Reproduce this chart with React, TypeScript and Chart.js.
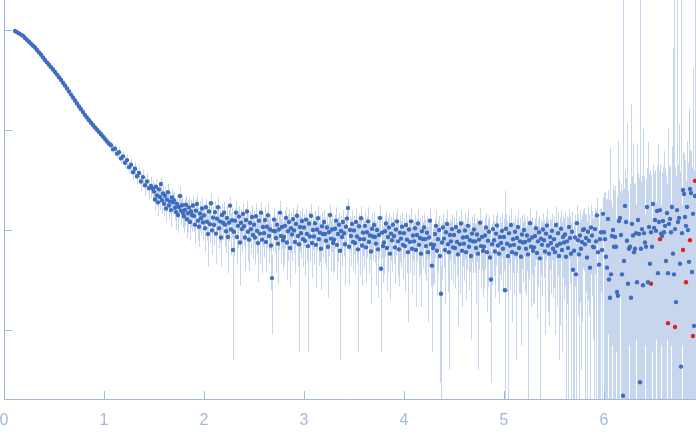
import React, { useEffect, useRef } from "react";
import { Chart, registerables } from "chart.js";

Chart.register(...registerables);

// scattering vector q (x axis)
const qValues = [
  0.11, 0.13, 0.15, 0.17, 0.19, 0.21, 0.23, 0.25, 0.27, 0.29,
  0.31, 0.33, 0.35, 0.37, 0.39, 0.41, 0.43, 0.45, 0.47, 0.49,
  0.51, 0.53, 0.55, 0.57, 0.59, 0.61, 0.63, 0.65, 0.67, 0.69,
  0.71, 0.73, 0.75, 0.77, 0.79, 0.81, 0.83, 0.85, 0.87, 0.89,
  0.91, 0.93, 0.95, 0.97, 0.99, 1.01, 1.03, 1.05, 1.07, 1.09,
  1.11, 1.13, 1.15, 1.17, 1.19, 1.21, 1.23, 1.25, 1.27, 1.29,
  1.31, 1.33, 1.35, 1.37, 1.39, 1.41, 1.43, 1.45, 1.47, 1.49,
  1.50, 1.51, 1.52, 1.53, 1.54, 1.55, 1.56, 1.57, 1.58, 1.59,
  1.60, 1.61, 1.62, 1.63, 1.64, 1.65, 1.66, 1.67, 1.68, 1.69,
  1.70, 1.71, 1.72, 1.73, 1.74, 1.75, 1.76, 1.77, 1.78, 1.79,
  1.80, 1.81, 1.82, 1.83, 1.84, 1.85, 1.86, 1.87, 1.88, 1.89,
  1.90, 1.91, 1.92, 1.93, 1.94, 1.95, 1.96, 1.97, 1.98, 1.99,
  2.00, 2.01, 2.02, 2.03, 2.04, 2.05, 2.06, 2.07, 2.08, 2.09,
  2.10, 2.11, 2.12, 2.13, 2.14, 2.15, 2.16, 2.17, 2.18, 2.19,
  2.20, 2.21, 2.22, 2.23, 2.24, 2.25, 2.26, 2.27, 2.28, 2.29,
  2.30, 2.31, 2.32, 2.33, 2.34, 2.35, 2.36, 2.37, 2.38, 2.39,
  2.40, 2.41, 2.42, 2.43, 2.44, 2.45, 2.46, 2.47, 2.48, 2.49,
  2.50, 2.51, 2.52, 2.53, 2.54, 2.55, 2.56, 2.57, 2.58, 2.59,
  2.60, 2.61, 2.62, 2.63, 2.64, 2.65, 2.66, 2.67, 2.68, 2.69,
  2.70, 2.71, 2.72, 2.73, 2.74, 2.75, 2.76, 2.77, 2.78, 2.79,
  2.80, 2.81, 2.82, 2.83, 2.84, 2.85, 2.86, 2.87, 2.88, 2.89,
  2.90, 2.91, 2.92, 2.93, 2.94, 2.95, 2.96, 2.97, 2.98, 2.99,
  3.00, 3.01, 3.02, 3.03, 3.04, 3.05, 3.06, 3.07, 3.08, 3.09,
  3.10, 3.11, 3.12, 3.13, 3.14, 3.15, 3.16, 3.17, 3.18, 3.19,
  3.20, 3.21, 3.22, 3.23, 3.24, 3.25, 3.26, 3.27, 3.28, 3.29,
  3.30, 3.31, 3.32, 3.33, 3.34, 3.35, 3.36, 3.37, 3.38, 3.39,
  3.40, 3.41, 3.42, 3.43, 3.44, 3.45, 3.46, 3.47, 3.48, 3.49,
  3.50, 3.51, 3.52, 3.53, 3.54, 3.55, 3.56, 3.57, 3.58, 3.59,
  3.60, 3.61, 3.62, 3.63, 3.64, 3.65, 3.66, 3.67, 3.68, 3.69,
  3.70, 3.71, 3.72, 3.73, 3.74, 3.75, 3.76, 3.77, 3.78, 3.79,
  3.80, 3.81, 3.82, 3.83, 3.84, 3.85, 3.86, 3.87, 3.88, 3.89,
  3.90, 3.91, 3.92, 3.93, 3.94, 3.95, 3.96, 3.97, 3.98, 3.99,
  4.00, 4.01, 4.02, 4.03, 4.04, 4.05, 4.06, 4.07, 4.08, 4.09,
  4.10, 4.11, 4.12, 4.13, 4.14, 4.15, 4.16, 4.17, 4.18, 4.19,
  4.20, 4.21, 4.22, 4.23, 4.24, 4.25, 4.26, 4.27, 4.28, 4.29,
  4.30, 4.31, 4.32, 4.33, 4.34, 4.35, 4.36, 4.37, 4.38, 4.39,
  4.40, 4.41, 4.42, 4.43, 4.44, 4.45, 4.46, 4.47, 4.48, 4.49,
  4.50, 4.51, 4.52, 4.53, 4.54, 4.55, 4.56, 4.57, 4.58, 4.59,
  4.60, 4.61, 4.62, 4.63, 4.64, 4.65, 4.66, 4.67, 4.68, 4.69,
  4.70, 4.71, 4.72, 4.73, 4.74, 4.75, 4.76, 4.77, 4.78, 4.79,
  4.80, 4.81, 4.82, 4.83, 4.84, 4.85, 4.86, 4.87, 4.88, 4.89,
  4.90, 4.91, 4.92, 4.93, 4.94, 4.95, 4.96, 4.97, 4.98, 4.99,
  5.00, 5.01, 5.02, 5.03, 5.04, 5.05, 5.06, 5.07, 5.08, 5.09,
  5.10, 5.11, 5.12, 5.13, 5.14, 5.15, 5.16, 5.17, 5.18, 5.19,
  5.20, 5.21, 5.22, 5.23, 5.24, 5.25, 5.26, 5.27, 5.28, 5.29,
  5.30, 5.31, 5.32, 5.33, 5.34, 5.35, 5.36, 5.37, 5.38, 5.39,
  5.40, 5.41, 5.42, 5.43, 5.44, 5.45, 5.46, 5.47, 5.48, 5.49,
  5.50, 5.51, 5.52, 5.53, 5.54, 5.55, 5.56, 5.57, 5.58, 5.59,
  5.60, 5.61, 5.62, 5.63, 5.64, 5.65, 5.66, 5.67, 5.68, 5.69,
  5.70, 5.71, 5.72, 5.73, 5.74, 5.75, 5.76, 5.77, 5.78, 5.79,
  5.80, 5.81, 5.82, 5.83, 5.84, 5.85, 5.86, 5.87, 5.88, 5.89,
  5.90, 5.91, 5.92, 5.93, 5.94, 5.95, 5.96, 5.97, 5.98, 5.99,
  6.00, 6.01, 6.02, 6.03, 6.04, 6.05, 6.06, 6.07, 6.08, 6.09,
  6.10, 6.11, 6.12, 6.13, 6.14, 6.15, 6.16, 6.17, 6.18, 6.19,
  6.20, 6.21, 6.22, 6.23, 6.24, 6.25, 6.26, 6.27, 6.28, 6.29,
  6.30, 6.31, 6.32, 6.33, 6.34, 6.35, 6.36, 6.37, 6.38, 6.39,
  6.40, 6.41, 6.42, 6.43, 6.44, 6.45, 6.46, 6.47, 6.48, 6.49,
  6.50, 6.51, 6.52, 6.53, 6.54, 6.55, 6.56, 6.57, 6.58, 6.59,
  6.60, 6.61, 6.62, 6.63, 6.64, 6.65, 6.66, 6.67, 6.68, 6.69,
  6.70, 6.71, 6.72, 6.73, 6.74, 6.75, 6.76, 6.77, 6.78, 6.79,
  6.80, 6.81, 6.82, 6.83, 6.84, 6.85, 6.86, 6.87, 6.88, 6.89,
  6.90, 6.91,
];

// intensity (log y axis)
const intensity = [
  0.977, 0.951, 0.925, 0.899, 0.875, 0.832, 0.796, 0.762, 0.728, 0.695,
  0.668, 0.632, 0.597, 0.565, 0.532, 0.501, 0.474, 0.449, 0.425, 0.402,
  0.38, 0.358, 0.337, 0.318, 0.297, 0.279, 0.26, 0.243, 0.226, 0.211,
  0.197, 0.184, 0.172, 0.161, 0.151, 0.141, 0.133, 0.125, 0.118, 0.112,
  0.106, 0.1007, 0.0957, 0.0908, 0.0859, 0.0813, 0.0769, 0.0728, 0.0705, 0.064,
  0.065, 0.058, 0.06, 0.052, 0.0545, 0.047, 0.05, 0.0425, 0.045, 0.0378,
  0.041, 0.0345, 0.0372, 0.0305, 0.0338, 0.028, 0.0305, 0.0262, 0.0275, 0.0258,
  0.0242, 0.0202, 0.0271, 0.0221, 0.0189, 0.0255, 0.0214, 0.0288, 0.0198, 0.0232,
  0.0183, 0.022, 0.0164, 0.0201, 0.0238, 0.0176, 0.0193, 0.0158, 0.0211, 0.0189,
  0.0197, 0.0167, 0.0151, 0.0182, 0.0141, 0.017, 0.0219, 0.0156, 0.0177, 0.0148,
  0.0137, 0.0159, 0.0179, 0.0128, 0.0147, 0.0168, 0.012, 0.0153, 0.0141, 0.0176,
  0.0138, 0.0113, 0.0156, 0.0182, 0.0124, 0.0108, 0.0146, 0.0131, 0.0164, 0.0119,
  0.014, 0.0104, 0.0169, 0.0121, 0.0091, 0.0153, 0.0114, 0.0185, 0.0099, 0.0133,
  0.0112, 0.0151, 0.0092, 0.013, 0.0169, 0.0104, 0.0122, 0.0084, 0.0141, 0.0118,
  0.0149, 0.0113, 0.0097, 0.0132, 0.0085, 0.0118, 0.0175, 0.0101, 0.0125, 0.0063,
  0.0096, 0.0124, 0.0149, 0.0085, 0.011, 0.0136, 0.0075, 0.0118, 0.0102, 0.0145,
  0.0109, 0.0084, 0.0126, 0.0153, 0.0096, 0.008, 0.0118, 0.0102, 0.0135, 0.0089,
  0.0113, 0.0084, 0.0137, 0.0098, 0.0074, 0.0124, 0.0092, 0.0149, 0.008, 0.0107,
  0.0093, 0.0126, 0.0076, 0.0108, 0.014, 0.0087, 0.0101, 0.007, 0.0033, 0.0098,
  0.0127, 0.0097, 0.0083, 0.0113, 0.0073, 0.0101, 0.0149, 0.0087, 0.0107, 0.0079,
  0.0085, 0.011, 0.0132, 0.0075, 0.0097, 0.012, 0.0066, 0.0104, 0.009, 0.0128,
  0.0099, 0.0076, 0.0115, 0.0139, 0.0087, 0.0072, 0.0107, 0.0093, 0.0123, 0.0081,
  0.0106, 0.0078, 0.0127, 0.0091, 0.0069, 0.0116, 0.0086, 0.0139, 0.0074, 0.01,
  0.0086, 0.0117, 0.0071, 0.0101, 0.0131, 0.0081, 0.0094, 0.0065, 0.0109, 0.0091,
  0.012, 0.0091, 0.0078, 0.0106, 0.0068, 0.0095, 0.0141, 0.0082, 0.0101, 0.0074,
  0.008, 0.0103, 0.0124, 0.0071, 0.0091, 0.0113, 0.0062, 0.0098, 0.0085, 0.012,
  0.0093, 0.0072, 0.0108, 0.013, 0.0166, 0.0068, 0.01, 0.0087, 0.0115, 0.0076,
  0.0099, 0.0074, 0.012, 0.0086, 0.0064, 0.0109, 0.0081, 0.0131, 0.007, 0.0094,
  0.0081, 0.011, 0.0067, 0.0095, 0.0122, 0.0076, 0.0088, 0.0061, 0.0103, 0.0086,
  0.0112, 0.0085, 0.0073, 0.01, 0.0064, 0.0089, 0.0132, 0.0041, 0.0094, 0.0069,
  0.0075, 0.0097, 0.0116, 0.0066, 0.0085, 0.0106, 0.0058, 0.0092, 0.0079, 0.0113,
  0.0087, 0.0067, 0.0101, 0.0122, 0.0077, 0.0064, 0.0094, 0.0082, 0.0108, 0.0071,
  0.0093, 0.0069, 0.0112, 0.008, 0.006, 0.0101, 0.0076, 0.0122, 0.0065, 0.0088,
  0.0077, 0.0104, 0.0063, 0.0089, 0.0116, 0.0071, 0.0083, 0.0058, 0.0097, 0.0081,
  0.0106, 0.0081, 0.0069, 0.0094, 0.006, 0.0084, 0.0124, 0.0072, 0.0044, 0.0066,
  0.0071, 0.0091, 0.011, 0.0062, 0.0081, 0.01, 0.0055, 0.0023, 0.0075, 0.0106,
  0.0082, 0.0063, 0.0095, 0.0115, 0.0072, 0.006, 0.0089, 0.0077, 0.0102, 0.0067,
  0.0089, 0.0066, 0.0107, 0.0076, 0.0057, 0.0097, 0.0072, 0.0116, 0.0062, 0.0084,
  0.0073, 0.0099, 0.006, 0.0085, 0.011, 0.0068, 0.0079, 0.0055, 0.0092, 0.0077,
  0.0101, 0.0077, 0.0066, 0.009, 0.0058, 0.008, 0.0118, 0.0069, 0.0085, 0.0062,
  0.0068, 0.0088, 0.0106, 0.006, 0.0078, 0.0096, 0.0053, 0.0032, 0.0072, 0.0102,
  0.0079, 0.0061, 0.0092, 0.0111, 0.007, 0.0058, 0.0085, 0.0074, 0.0098, 0.0065,
  0.0085, 0.0025, 0.0103, 0.0073, 0.0055, 0.0093, 0.007, 0.0112, 0.006, 0.0081,
  0.0071, 0.0096, 0.0058, 0.0083, 0.0107, 0.0066, 0.0077, 0.0054, 0.009, 0.0075,
  0.01, 0.0076, 0.0065, 0.0088, 0.0057, 0.0079, 0.0117, 0.0068, 0.0084, 0.0062,
  0.0067, 0.0087, 0.0104, 0.0059, 0.0077, 0.0095, 0.0052, 0.0082, 0.0071, 0.0101,
  0.0079, 0.0061, 0.0092, 0.0111, 0.007, 0.0058, 0.0085, 0.0074, 0.0098, 0.0065,
  0.0081, 0.006, 0.0112, 0.007, 0.0093, 0.0055, 0.0073, 0.0103, 0.0063, 0.0085,
  0.0075, 0.009, 0.0054, 0.0077, 0.0066, 0.0107, 0.0083, 0.0058, 0.0096, 0.004,
  0.0062, 0.0084, 0.0036, 0.0117, 0.0079, 0.0057, 0.0088, 0.0065, 0.0076, 0.01,
  0.0102, 0.0072, 0.0083, 0.0053, 0.0096, 0.0078, 0.0042, 0.0106, 0.0088, 0.0068,
  0.0067, 0.0102, 0.0077, 0.014, 0.006, 0.0045, 0.0081, 0.0095, 0.0063, 0.0145,
  0.0095, 0.0081, 0.0054, 0.0042, 0.0129, 0.0032, 0.0021, 0.0036, 0.0087, 0.01,
  0.0068, 0.0085, 0.0068, 0.0024, 0.0022, 0.0123, 0.0132, 0.0089, 0.0036, 0.00022,
  0.0049, 0.0174, 0.012, 0.0078, 0.0029, 0.0065, 0.0068, 0.0021, 0.0115, 0.0088,
  0.006, 0.0065, 0.0093, 0.003, 0.0126, 0.0091, 0.0003, 0.0065, 0.0102, 0.0028,
  0.0093, 0.0075, 0.0068, 0.017, 0.003, 0.0107, 0.0046, 0.0095, 0.0068, 0.0182,
  0.0105, 0.0126, 0.0098, 0.0155, 0.0037, 0.012, 0.0158, 0.0092, 0.0087, 0.0123,
  0.0095, 0.011, 0.0049, 0.0148, 0.0037, 0.0115, 0.0129, 0.0095, 0.017, 0.0058,
  0.0036, 0.0102, 0.0019, 0.0158, 0.012, 0.0132, 0.0046, 0.00043, 0.0093, 0.0251,
  0.0229, 0.0135, 0.011, 0.017, 0.01, 0.0048, 0.0257, 0.0234, 0.0038, 0.0145,
  0.0011, 0.0219,
];

// measurement uncertainty (error bar half-length)
const sigma = [
  0.03, 0.012, 0.012, 0.011, 0.011, 0.01, 0.01, 0.01, 0.009, 0.009,
  0.009, 0.009, 0.008, 0.008, 0.008, 0.008, 0.008, 0.008, 0.008, 0.008,
  0.009, 0.009, 0.009, 0.009, 0.009, 0.009, 0.009, 0.008, 0.008, 0.008,
  0.008, 0.008, 0.008, 0.007, 0.007, 0.007, 0.007, 0.007, 0.007, 0.006,
  0.006, 0.006, 0.006, 0.006, 0.006, 0.006, 0.006, 0.006, 0.006, 0.006,
  0.0065, 0.006, 0.007, 0.006, 0.0065, 0.006, 0.007, 0.006, 0.0065, 0.006,
  0.0065, 0.006, 0.0065, 0.006, 0.0065, 0.006, 0.0065, 0.006, 0.0065, 0.006,
  0.005, 0.0046, 0.0055, 0.0048, 0.0053, 0.0045, 0.0056, 0.0049, 0.0052, 0.0047,
  0.0046, 0.0052, 0.0043, 0.0049, 0.0055, 0.0047, 0.0045, 0.0051, 0.0048, 0.0044,
  0.0046, 0.0042, 0.0051, 0.0044, 0.0048, 0.0041, 0.0052, 0.0045, 0.0047, 0.0043,
  0.0043, 0.0049, 0.0041, 0.0046, 0.0052, 0.0044, 0.0042, 0.0048, 0.0045, 0.0041,
  0.0044, 0.004, 0.0048, 0.0042, 0.0046, 0.004, 0.0049, 0.0043, 0.0045, 0.0041,
  0.004, 0.0045, 0.0038, 0.0043, 0.0048, 0.0041, 0.0039, 0.0045, 0.0042, 0.0038,
  0.0042, 0.0039, 0.0046, 0.004, 0.0044, 0.0038, 0.0047, 0.0041, 0.0043, 0.0039,
  0.004, 0.0045, 0.0038, 0.0043, 0.0048, 0.0041, 0.0039, 0.0045, 0.0042, 0.0058,
  0.0042, 0.0039, 0.0046, 0.004, 0.0044, 0.0038, 0.0047, 0.0041, 0.0043, 0.0039,
  0.004, 0.0045, 0.0038, 0.0043, 0.0048, 0.0041, 0.0039, 0.0045, 0.0042, 0.0038,
  0.0042, 0.0039, 0.0046, 0.004, 0.0044, 0.0038, 0.0047, 0.0041, 0.0043, 0.0039,
  0.004, 0.0045, 0.0038, 0.0043, 0.0048, 0.0041, 0.0039, 0.0045, 0.0024, 0.0038,
  0.0042, 0.0039, 0.0046, 0.004, 0.0044, 0.0038, 0.0047, 0.0041, 0.0043, 0.0039,
  0.004, 0.0045, 0.0038, 0.0043, 0.0048, 0.0041, 0.0039, 0.0045, 0.0042, 0.0038,
  0.0042, 0.0039, 0.0046, 0.004, 0.0044, 0.0066, 0.0047, 0.0041, 0.0043, 0.0039,
  0.0039, 0.0044, 0.0037, 0.0042, 0.0063, 0.004, 0.0038, 0.0043, 0.0041, 0.0037,
  0.0041, 0.0038, 0.0045, 0.0039, 0.0043, 0.0037, 0.0046, 0.004, 0.0042, 0.0039,
  0.0039, 0.0044, 0.0037, 0.0042, 0.0047, 0.004, 0.0038, 0.0043, 0.0041, 0.0037,
  0.0041, 0.0038, 0.0045, 0.0039, 0.0043, 0.0037, 0.0057, 0.004, 0.0042, 0.0039,
  0.0039, 0.0044, 0.0037, 0.0042, 0.004, 0.004, 0.0038, 0.0043, 0.0041, 0.0037,
  0.0041, 0.0038, 0.0045, 0.0039, 0.0058, 0.0037, 0.0046, 0.004, 0.0042, 0.0039,
  0.0039, 0.0044, 0.0037, 0.0042, 0.0047, 0.004, 0.0038, 0.0043, 0.0041, 0.0037,
  0.0041, 0.0038, 0.0045, 0.0039, 0.0043, 0.0037, 0.0046, 0.0035, 0.0042, 0.0039,
  0.0039, 0.0044, 0.0037, 0.0042, 0.0047, 0.004, 0.0038, 0.0043, 0.0041, 0.0037,
  0.0041, 0.0038, 0.0045, 0.0039, 0.0043, 0.0037, 0.0046, 0.004, 0.0042, 0.0039,
  0.004, 0.0045, 0.0038, 0.0043, 0.0048, 0.0041, 0.0039, 0.0045, 0.0042, 0.0038,
  0.0042, 0.0039, 0.0046, 0.004, 0.0044, 0.0038, 0.0047, 0.0041, 0.0043, 0.0039,
  0.004, 0.0045, 0.0038, 0.0043, 0.0048, 0.0041, 0.0039, 0.0045, 0.0038, 0.0038,
  0.0042, 0.0039, 0.0046, 0.004, 0.0044, 0.0038, 0.0052, 0.0021, 0.0043, 0.0039,
  0.004, 0.0045, 0.0038, 0.0043, 0.0048, 0.0056, 0.0039, 0.0045, 0.0042, 0.0038,
  0.0044, 0.004, 0.0048, 0.0042, 0.0046, 0.004, 0.0049, 0.0043, 0.0045, 0.0041,
  0.0042, 0.0048, 0.004, 0.0045, 0.0051, 0.0043, 0.0041, 0.0047, 0.0044, 0.004,
  0.0044, 0.004, 0.0048, 0.0042, 0.0054, 0.004, 0.0049, 0.0043, 0.0045, 0.0041,
  0.0042, 0.0048, 0.004, 0.0045, 0.0051, 0.0043, 0.0041, 0.0029, 0.0044, 0.004,
  0.0044, 0.004, 0.0048, 0.0042, 0.0046, 0.004, 0.0049, 0.0043, 0.0045, 0.0041,
  0.0046, 0.022, 0.0043, 0.0049, 0.0055, 0.0047, 0.0045, 0.0051, 0.0048, 0.0044,
  0.0048, 0.0044, 0.0053, 0.0046, 0.005, 0.0043, 0.0054, 0.0047, 0.0049, 0.0045,
  0.0046, 0.0052, 0.0043, 0.0049, 0.0055, 0.0047, 0.0045, 0.0051, 0.0048, 0.0044,
  0.0048, 0.0044, 0.0053, 0.0046, 0.005, 0.0043, 0.0054, 0.0047, 0.0049, 0.0045,
  0.0046, 0.0052, 0.0043, 0.0049, 0.0055, 0.0047, 0.0045, 0.0051, 0.0048, 0.0044,
  0.0055, 0.0051, 0.0061, 0.0053, 0.0058, 0.005, 0.0062, 0.0054, 0.0057, 0.0052,
  0.0055, 0.0063, 0.0052, 0.0059, 0.0067, 0.0056, 0.0054, 0.0061, 0.0058, 0.004,
  0.0062, 0.0057, 0.0036, 0.006, 0.0065, 0.0056, 0.0069, 0.0061, 0.0064, 0.0058,
  0.0063, 0.0071, 0.0059, 0.0067, 0.0076, 0.0064, 0.0042, 0.007, 0.0066, 0.006,
  0.0072, 0.0066, 0.0079, 0.0069, 0.0076, 0.0045, 0.0081, 0.0071, 0.0074, 0.0068,
  0.014, 0.016, 0.015, 0.016, 0.012, 0.017, 0.065, 0.016, 0.008, 0.018,
  0.018, 0.019, 0.0062, 0.019, 0.076, 0.02, 0.011, 0.02, 0.021, 3.0,
  0.021, 0.022, 0.021, 0.11, 0.022, 0.0058, 0.022, 0.18, 0.023, 0.065,
  0.023, 0.023, 0.0085, 0.069, 0.024, 0.024, 3.0, 0.024, 0.025, 0.1,
  0.025, 0.0068, 0.025, 0.025, 0.073, 0.026, 0.035, 0.026, 0.0062, 0.027,
  0.027, 0.027, 0.009, 0.028, 0.07, 0.028, 0.029, 0.0085, 0.029, 0.03,
  0.052, 0.03, 0.03, 0.014, 0.1, 0.031, 0.031, 0.0088, 0.052, 0.65,
  3.0, 0.032, 0.033, 3.0, 0.033, 0.1, 0.034, 3.0, 0.0086, 0.035,
  0.035, 0.036, 0.01, 0.06, 0.037, 0.16, 0.037, 0.038, 0.038, 0.4,
  0.038, 3.0,
];

// flagged points (drawn red)
const qRed = [6.47, 6.56, 6.64, 6.71, 6.79, 6.82, 6.86, 6.89, 6.91];
const intensityRed = [0.0029, 0.0081, 0.00117, 0.00107, 0.0063, 0.003, 0.0079, 0.00087, 0.031];
const sigmaRed = [0.022, 0.024, 0.025, 0.026, 0.027, 0.028, 0.028, 0.029, 0.03];

// axis ticks
const xTicks = [0, 1, 2, 3, 4, 5, 6];
const yTicks = [1, 0.1, 0.01, 0.001];

const AXIS_COLOR = "#a3b7e2";
const BAR_COLOR = "#c8d6ed";
const POINT_COLOR = "#3e6dbf";
const RED_COLOR = "#e3211d";

export default function App() {
  const canvasRef = useRef<HTMLCanvasElement | null>(null);

  useEffect(() => {
    const canvas = canvasRef.current;
    if (!canvas) return;
    const errorSets = [sigma, sigmaRed];

    const errorBarPlugin = {
      id: "errorBars",
      beforeDatasetsDraw(chart: any) {
        const { ctx, chartArea, scales } = chart;
        const xs = scales.x;
        const ys = scales.y;
        ctx.save();
        ctx.beginPath();
        ctx.rect(chartArea.left, chartArea.top, chartArea.right - chartArea.left, chartArea.bottom - chartArea.top);
        ctx.clip();
        ctx.strokeStyle = BAR_COLOR;
        ctx.lineWidth = 1;
        ctx.beginPath();
        chart.data.datasets.forEach((ds: any, di: number) => {
          const errs = errorSets[di];
          ds.data.forEach((p: any, i: number) => {
            const s = errs[i];
            const px = Math.round(xs.getPixelForValue(p.x)) + 0.5;
            const top = ys.getPixelForValue(p.y + s);
            const lo = p.y - s;
            const bottom = lo > 0 ? ys.getPixelForValue(lo) : chartArea.bottom;
            ctx.moveTo(px, top);
            ctx.lineTo(px, bottom);
          });
        });
        ctx.stroke();
        ctx.restore();
      },
    };

    const tickMarkPlugin = {
      id: "innerTicks",
      afterDraw(chart: any) {
        const { ctx, chartArea, scales } = chart;
        ctx.save();
        ctx.strokeStyle = AXIS_COLOR;
        ctx.lineWidth = 1;
        ctx.beginPath();
        xTicks.forEach((v) => {
          const px = Math.round(scales.x.getPixelForValue(v)) + 0.5;
          ctx.moveTo(px, chartArea.bottom);
          ctx.lineTo(px, chartArea.bottom - 8);
        });
        yTicks.forEach((v) => {
          const py = Math.round(scales.y.getPixelForValue(v)) + 0.5;
          ctx.moveTo(chartArea.left, py);
          ctx.lineTo(chartArea.left + 8, py);
        });
        ctx.stroke();
        ctx.restore();
      },
    };

    const chart = new Chart(canvas, {
      type: "scatter",
      data: {
        datasets: [
          {
            data: qValues.map((q, i) => ({ x: q, y: intensity[i] })),
            backgroundColor: POINT_COLOR,
            borderWidth: 0,
            pointRadius: 2.2,
          },
          {
            data: qRed.map((q, i) => ({ x: q, y: intensityRed[i] })),
            backgroundColor: RED_COLOR,
            borderWidth: 0,
            pointRadius: 2.2,
          },
        ],
      },
      options: {
        animation: false,
        responsive: false,
        devicePixelRatio: 1,
        layout: { padding: 0, autoPadding: false },
        plugins: { legend: { display: false }, tooltip: { enabled: false } },
        scales: {
          x: {
            type: "linear",
            position: "bottom",
            min: 0,
            max: 6.92,
            afterFit: (s: any) => {
              s.height = 38;
              s.paddingLeft = 0;
              s.paddingRight = 0;
            },
            grid: { display: false, drawTicks: false },
            border: { display: true, color: AXIS_COLOR, width: 1 },
            ticks: {
              stepSize: 1,
              includeBounds: false,
              autoSkip: false,
              maxRotation: 0,
              padding: 12,
              color: AXIS_COLOR,
              font: { family: "'Liberation Sans', Arial, sans-serif", size: 16 },
              callback: (v: any) => String(v),
            },
          },
          y: {
            type: "logarithmic",
            position: "left",
            min: 0.000204,
            max: 1.995,
            afterFit: (s: any) => {
              s.width = 4;
              s.paddingTop = 0;
              s.paddingBottom = 0;
            },
            grid: { display: false, drawTicks: false },
            border: { display: true, color: AXIS_COLOR, width: 1 },
            ticks: { display: false },
          },
        },
      },
      plugins: [errorBarPlugin, tickMarkPlugin],
    });

    return () => chart.destroy();
  }, []);

  return (
    <div style={{ position: "absolute", left: 0, top: 0, width: 696, height: 437, background: "#ffffff" }}>
      <canvas ref={canvasRef} width={696} height={437} style={{ display: "block", width: 696, height: 437 }} />
    </div>
  );
}
